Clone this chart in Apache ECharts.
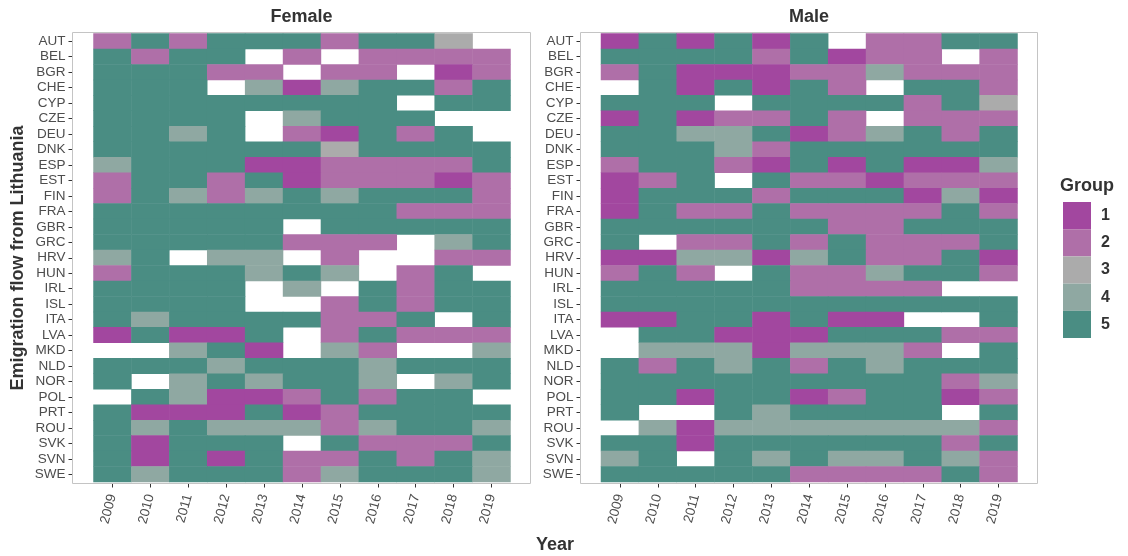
<!DOCTYPE html>
<html><head><meta charset="utf-8">
<script src="https://cdn.jsdelivr.net/npm/echarts@6/dist/echarts.min.js"></script>
<style>html,body{margin:0;padding:0;background:#fff}#c{width:1128px;height:556px}</style>
</head><body><div id="c"></div>
<script>
const years = ['2009','2010','2011','2012','2013','2014','2015','2016','2017','2018','2019'];
const countries = ['AUT','BEL','BGR','CHE','CYP','CZE','DEU','DNK','ESP','EST','FIN','FRA','GBR','GRC','HRV','HUN','IRL','ISL','ITA','LVA','MKD','NLD','NOR','POL','PRT','ROU','SVK','SVN','SWE'];
const N = null;
// group per country (rows) and year (columns), null = missing
const femaleGroups = [
  [2,5,2,5,5,5,2,5,5,3,N],
  [5,2,5,5,N,2,N,2,2,2,2],
  [5,5,5,2,2,N,2,2,N,1,2],
  [5,5,5,N,4,1,4,5,5,2,5],
  [5,5,5,5,5,5,5,5,N,5,5],
  [5,5,5,5,N,4,5,5,5,N,N],
  [5,5,4,5,N,2,1,5,2,5,N],
  [5,5,5,5,5,5,3,5,5,5,5],
  [4,5,5,5,1,1,2,2,2,2,5],
  [2,5,5,2,5,1,2,2,2,1,2],
  [2,5,4,2,4,5,4,5,5,5,2],
  [5,5,5,5,5,5,5,5,2,2,2],
  [5,5,5,5,5,N,5,5,5,5,5],
  [5,5,5,5,5,2,2,2,N,4,5],
  [4,5,N,4,4,N,2,N,N,2,2],
  [2,5,5,5,4,5,4,N,2,5,N],
  [5,5,5,5,N,4,N,5,2,5,5],
  [5,5,5,5,N,N,2,5,2,5,5],
  [5,4,5,5,5,5,2,2,5,N,5],
  [1,5,1,1,5,N,2,5,2,2,2],
  [N,N,4,5,1,N,4,2,N,N,4],
  [5,5,5,4,5,5,5,4,5,5,5],
  [5,N,4,5,4,5,5,4,N,4,5],
  [N,5,4,1,1,2,5,2,5,5,N],
  [5,1,1,1,5,1,2,5,5,5,5],
  [5,4,5,4,4,4,2,4,5,5,4],
  [5,1,5,5,5,N,5,2,2,2,5],
  [5,1,5,1,5,2,2,5,2,5,4],
  [5,4,5,5,5,2,4,5,5,5,4]
];
const maleGroups = [
  [1,5,1,5,1,5,N,2,2,5,5],
  [5,5,5,5,2,5,1,2,2,N,2],
  [2,5,1,1,1,2,2,4,2,2,2],
  [N,5,1,5,1,5,2,N,5,5,2],
  [5,5,5,N,5,5,5,5,2,5,3],
  [1,5,1,2,2,5,2,N,2,2,2],
  [5,5,4,4,5,1,2,4,5,2,5],
  [5,5,5,4,2,5,5,5,5,5,5],
  [2,5,5,2,1,5,1,5,1,1,4],
  [1,2,5,N,5,2,2,1,2,2,2],
  [1,5,5,5,2,5,5,5,1,4,1],
  [1,5,2,2,5,2,2,2,2,5,2],
  [5,5,5,5,5,5,2,2,5,5,5],
  [5,N,2,2,5,2,5,2,2,2,5],
  [1,1,4,4,1,4,5,2,2,5,1],
  [2,5,2,N,5,2,2,4,5,5,2],
  [5,5,5,5,5,2,2,2,2,N,N],
  [5,5,5,5,5,5,5,5,5,5,5],
  [1,1,5,5,1,5,1,1,N,N,5],
  [N,5,5,1,1,1,5,5,5,2,2],
  [N,4,4,4,1,4,4,4,2,N,5],
  [5,2,5,4,5,2,5,4,5,5,5],
  [5,5,5,5,5,5,5,5,5,2,4],
  [5,5,1,5,5,1,2,5,5,1,2],
  [5,N,N,5,4,5,5,5,5,N,5],
  [N,4,1,4,4,4,4,4,4,4,2],
  [5,5,1,5,5,5,5,5,5,2,5],
  [4,5,N,5,4,5,4,4,5,4,2],
  [5,5,5,5,5,2,2,2,2,5,2]
];
const groupLabels = ['1','2','3','4','5'];
const groupColors = ['#A2479F','#AF6FA8','#ABABAB','#8FA8A2','#4A8D83'];
const panelTitles = ['Female','Male'];

const FONT = "'Liberation Sans', Arial, Helvetica, sans-serif";
function toCells(rows){
  const out = [];
  rows.forEach((r, yi) => r.forEach((v, xi) => { if (v !== null) out.push([xi, yi, v]); }));
  return out;
}
const panels = [
  {grid:{left:93.5, top:33.5, width:417, height:448.5}, box:{x:72.5, y:32.5, w:458, h:451}, yoff:21},
  {grid:{left:601, top:33.5, width:416.5, height:448.5}, box:{x:580.5, y:32.5, w:457, h:451}, yoff:20.5}
];
const chart = echarts.init(document.getElementById('c'), null, {renderer:'canvas'});
const option = {
  backgroundColor:'#ffffff',
  animation:false,
  textStyle:{fontFamily:FONT},
  grid: panels.map(p => Object.assign({containLabel:false}, p.grid)),
  xAxis: panels.map((p,i) => ({
    type:'category', gridIndex:i, data:years, offset:1.5,
    axisLine:{show:false},
    axisTick:{show:true, alignWithLabel:true, interval:0, length:4, lineStyle:{color:'#333333', width:1}},
    axisLabel:{interval:0, rotate:75, margin:11, fontSize:13.5, color:'#4d4d4d', fontFamily:FONT},
    splitLine:{show:false}
  })),
  yAxis: panels.map((p,i) => ({
    type:'category', gridIndex:i, data:countries, inverse:true, offset:p.yoff,
    axisLine:{show:false},
    axisTick:{show:true, alignWithLabel:true, interval:0, length:4, lineStyle:{color:'#333333', width:1}},
    axisLabel:{interval:0, margin:7, fontSize:13.5, color:'#4d4d4d', fontFamily:FONT},
    splitLine:{show:false}
  })),
  visualMap:{
    type:'piecewise', seriesIndex:[0,1], dimension:2, inverse:true, align:'left',
    pieces: groupLabels.map((l,i) => ({value:i+1, label:l, color:groupColors[i]})),
    orient:'vertical', left:1063, top:202, padding:0, itemWidth:28, itemHeight:27.2, itemGap:0,
    itemSymbol:'rect', textGap:10, selectedMode:false, hoverLink:false,
    textStyle:{fontSize:16, fontWeight:'bold', color:'#333333', fontFamily:FONT}
  },
  series:[femaleGroups, maleGroups].map((rows,i) => ({
    type:'heatmap', xAxisIndex:i, yAxisIndex:i, data:toCells(rows),
    itemStyle:{borderWidth:0}, emphasis:{disabled:true}
  })),
  graphic:[
    ...panels.map(p => ({type:'rect', z:100, silent:true, shape:{x:p.box.x, y:p.box.y, width:p.box.w, height:p.box.h}, style:{fill:null, stroke:'#c4c4c4', lineWidth:1}})),
    ...panels.map((p,i) => ({type:'text', z:100, x:p.box.x + p.box.w/2, y:17, style:{text:panelTitles[i], font:"bold 18px "+FONT, fill:'#333333', textAlign:'center', textVerticalAlign:'middle'}})),
    {type:'text', z:100, x:555, y:545, style:{text:'Year', font:"bold 18px "+FONT, fill:'#333333', textAlign:'center', textVerticalAlign:'middle'}},
    {type:'text', z:100, x:18, y:258, rotation:Math.PI/2, style:{text:'Emigration flow from Lithuania', font:"bold 18px "+FONT, fill:'#333333', textAlign:'center', textVerticalAlign:'middle'}},
    {type:'text', z:100, x:1060, y:186, style:{text:'Group', font:"bold 18px "+FONT, fill:'#333333', textAlign:'left', textVerticalAlign:'middle'}}
  ]
};
chart.setOption(option);
</script>
</body></html>
